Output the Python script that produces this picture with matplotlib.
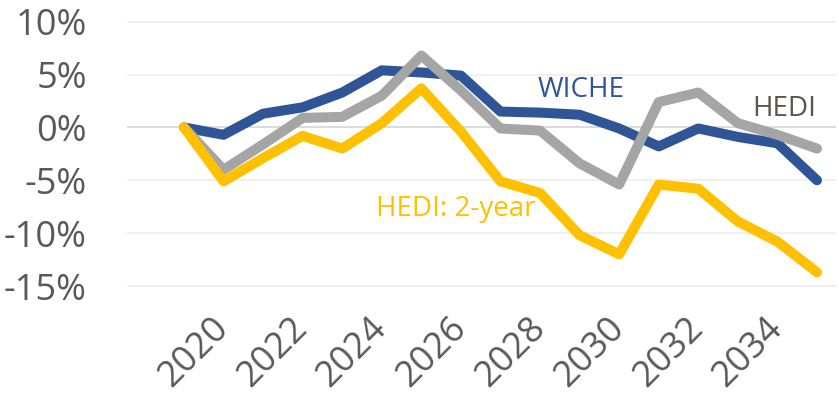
import matplotlib
matplotlib.use("Agg")
import matplotlib.pyplot as plt

plt.rcParams['font.family'] = ['Open Sans', 'DejaVu Sans']

years = list(range(2019, 2036))
wiche = [0.0, -0.7, 1.3, 1.9, 3.3, 5.4, 5.2, 4.9, 1.5, 1.4, 1.2, -0.1, -1.8, -0.1, -0.9, -1.5, -5.0]
hedi = [0.0, -4.0, -1.6, 0.9, 1.0, 3.0, 6.8, 3.5, -0.1, -0.3, -3.4, -5.4, 2.4, 3.3, 0.4, -0.7, -2.0]
hedi_2yr = [0.0, -5.1, -2.9, -0.8, -2.0, 0.4, 3.7, -0.4, -5.1, -6.2, -10.2, -12.0, -5.4, -5.8, -8.9, -10.8, -13.7]
xtick_years = list(range(2020, 2035, 2))
yticks = [10, 5, 0, -5, -10, -15]

W, H = 839, 403
fig = plt.figure(figsize=(W / 100, H / 100), dpi=100)
top_px, bot_px = 16.4, 291.3
ax = fig.add_axes([127 / W, 1 - bot_px / H, 709 / W, (bot_px - top_px) / H])

for v in yticks:
    ax.axhline(v, color='#D9D9D9' if v == 0 else '#EFEFEF', lw=1.3, zorder=0)

kw = dict(lw=7.2, solid_capstyle='round', solid_joinstyle='round')
ax.plot(years, wiche, color='#2F5597', zorder=2, **kw)
ax.plot(years, hedi, color='#A5A5A5', zorder=3, **kw)
ax.plot(years, hedi_2yr, color='#FFC000', zorder=4, **kw)

ax.text(2027.95, 3.5, 'WICHE', color='#2F5597', fontsize=20, va='center', ha='left')
ax.text(2033.36, 1.7, 'HEDI', color='#5B5648', fontsize=20, va='center', ha='left')
ax.text(2023.85, -7.7, 'HEDI: 2-year', color='#FFC000', fontsize=20, va='center', ha='left')

ax.set_xlim(2017.56, 2035.48)
ax.set_ylim(-15.5, 10.5)
ax.set_yticks(yticks)
ax.set_yticklabels([f'{v}%' for v in yticks])
ax.set_xticks(xtick_years)
ax.set_xticklabels([str(y) for y in xtick_years], rotation=45, ha='right',
                   va='center', rotation_mode='anchor')
ax.tick_params(axis='both', length=0, labelcolor='#595959')
ax.tick_params(axis='y', pad=29, labelsize=26)
ax.tick_params(axis='x', pad=23, labelsize=26)
for s in ax.spines.values():
    s.set_visible(False)

fig.savefig('out.png', dpi=100)
